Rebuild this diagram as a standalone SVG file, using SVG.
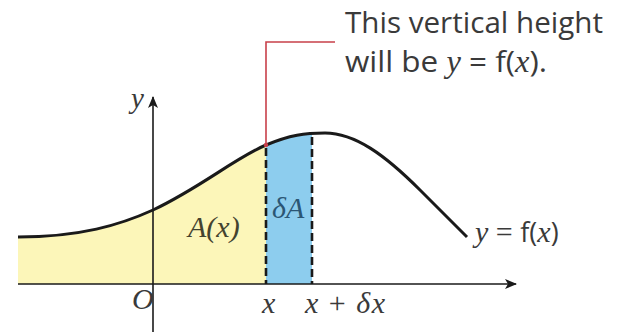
<svg xmlns="http://www.w3.org/2000/svg" width="624" height="333" viewBox="0 0 624 333">
<style>
.sans{font-family:"Open Sans","Liberation Sans",sans-serif;fill:#3a3a3a}
.math{font-family:"Liberation Serif",serif;font-style:italic;fill:#3a3a3a}
.up{font-style:normal}
.axis{stroke:#1a1a1a;stroke-width:1.6;fill:none}
.dash{stroke:#1a1a1a;stroke-width:2.6;stroke-dasharray:8 4;fill:none}
</style>
<defs>
<marker id="arr" viewBox="0 0 12 10" refX="11" refY="5" markerWidth="12" markerHeight="10" markerUnits="userSpaceOnUse" orient="auto">
<path d="M0,0 L12,5 L0,10 L3,5 Z" fill="#1a1a1a"/>
</marker>
</defs>
<rect width="624" height="333" fill="#ffffff"/>
<g id="region-A">
<path d="M18,237 C80,237 120,225 153,210 C200,188 235,158 266,145 L266,284 L18,284 Z" fill="#fcf6b9"/>
</g>
<g id="region-dA">
<path d="M266,145 C281,139 296,135 312,134 L312,284 L266,284 Z" fill="#8dcdee"/>
</g>
<g id="connectors">
<line class="axis" x1="18" y1="284" x2="516" y2="284" marker-end="url(#arr)"/>
<line class="axis" x1="153" y1="332" x2="153" y2="97" marker-end="url(#arr)"/>
<line class="dash" x1="266" y1="148" x2="266" y2="284"/>
<line class="dash" x1="312" y1="137" x2="312" y2="284"/>
<path d="M18,237 C80,237 120,225 153,210 C200,188 235,158 266,145 C290,135 305,133 325,133 C355,133 385,155 420,190 C440,210 455,225 467,237" fill="none" stroke="#1a1a1a" stroke-width="3"/>
<polyline points="335,42 266,42 266,145" fill="none" stroke="#c8404a" stroke-width="1.6"/>
<circle cx="266" cy="145" r="2.2" fill="#c8404a"/>
</g>
<g id="callout">
<text class="sans" x="345" y="33" font-size="30" textLength="258" lengthAdjust="spacingAndGlyphs">This vertical height</text>
<text class="sans" x="345" y="72" font-size="30" textLength="202" lengthAdjust="spacingAndGlyphs">will be <tspan class="math" font-size="31">y</tspan> = f(<tspan class="math" font-size="31">x</tspan>).</text>
</g>
<g id="labels">
<text class="math" x="131" y="108" font-size="29">y</text>
<text class="math" x="132" y="309" font-size="30">O</text>
<text class="math" x="262" y="313" font-size="30">x</text>
<text class="math" x="305" y="313" font-size="30" textLength="80" lengthAdjust="spacing">x <tspan class="up">+</tspan> δx</text>
<text class="math" x="188" y="237" font-size="30" style="fill:#44432f">A(x)</text>
<text class="math" x="272" y="218" font-size="30" style="fill:#2b5674">δA</text>
<text class="math" x="475" y="242" font-size="30">y <tspan class="up">=</tspan> <tspan class="up" font-family="Open Sans, Liberation Sans, sans-serif" font-size="27">f(</tspan>x<tspan class="up" font-family="Open Sans, Liberation Sans, sans-serif" font-size="27">)</tspan></text>
</g>
</svg>
